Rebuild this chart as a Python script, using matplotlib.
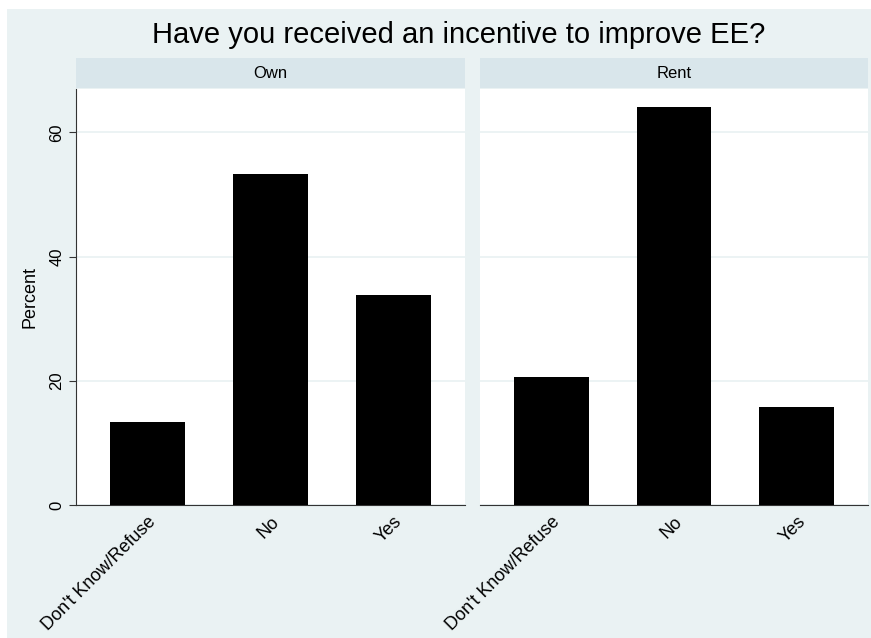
import matplotlib.pyplot as plt
from matplotlib.patches import Rectangle

plt.rcParams['font.family'] = ['Liberation Sans', 'DejaVu Sans']

categories = ["Don't Know/Refuse", "No", "Yes"]
panels = ["Own", "Rent"]
own_pct = [13.3, 53.3, 33.9]
rent_pct = [20.6, 64.1, 15.8]
yticks = [0, 20, 40, 60]

bg = '#eaf2f3'
strip = '#d9e6eb'

fig = plt.figure(figsize=(8.71, 6.38), dpi=100)
fig.patch.set_facecolor('white')
# light backdrop like stata's s2color
fig.patches.append(Rectangle((7 / 871, 0), 1, 1 - 9 / 638, transform=fig.transFigure,
                             facecolor=bg, edgecolor='none', zorder=-10))

bottom = 1 - 505 / 638
top = 1 - 89 / 638
lefts = [76 / 871, 480 / 871]
rights = [465 / 871, 868 / 871]

for i, (name, vals) in enumerate(zip(panels, [own_pct, rent_pct])):
    ax = fig.add_axes([lefts[i], bottom, rights[i] - lefts[i], top - bottom])
    ax.set_facecolor('white')
    ax.bar(range(len(categories)), vals, width=0.61, color='black', zorder=3)
    ax.set_xlim(-0.58, 2.58)
    ax.set_ylim(0, 67)
    ax.set_yticks(yticks)
    ax.yaxis.grid(True, color=bg, linewidth=1.3, zorder=0)
    ax.set_xticks(range(len(categories)))
    ax.set_xticklabels(categories, rotation=45, ha='right', rotation_mode='anchor',
                       fontsize=13)
    ax.tick_params(axis='x', length=0, pad=6)
    for s in ['top', 'right']:
        ax.spines[s].set_visible(False)
    ax.spines['bottom'].set_color('#333333')
    if i == 0:
        ax.spines['left'].set_color('#333333')
        ax.tick_params(axis='y', length=5, color='#333333', labelsize=12)
        for lab in ax.get_yticklabels():
            lab.set_rotation(90)
            lab.set_va('center')
        ax.set_ylabel('Percent', fontsize=13, labelpad=8)
    else:
        ax.spines['left'].set_visible(False)
        ax.tick_params(axis='y', length=0, labelleft=False)

    # panel header strip
    h0 = 1 - 88 / 638
    h1 = 1 - 58 / 638
    fig.patches.append(Rectangle((lefts[i], h0), rights[i] - lefts[i], h1 - h0,
                                 transform=fig.transFigure, facecolor=strip,
                                 edgecolor='none'))
    fig.text((lefts[i] + rights[i]) / 2, (h0 + h1) / 2, name, ha='center', va='center',
             fontsize=12)

fig.text(0.527, 1 - 35 / 638, 'Have you received an incentive to improve EE?',
         ha='center', va='center', fontsize=21)

fig.savefig('out.png', dpi=100)
